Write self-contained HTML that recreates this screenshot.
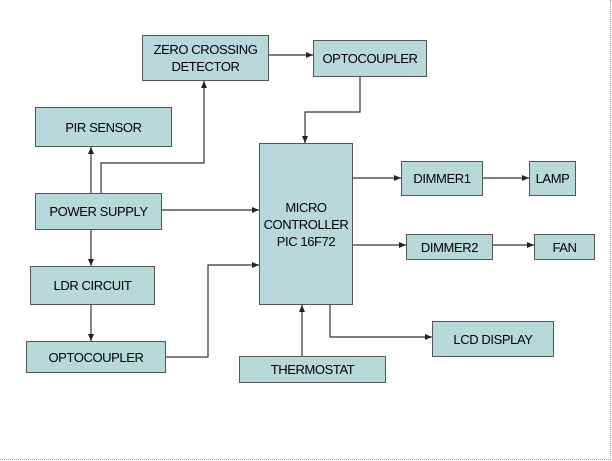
<!DOCTYPE html>
<html><head><style>
body{margin:0;background:#fff}
.b{position:absolute;background:#b7d9da;border:1px solid #555;box-sizing:border-box;display:flex;align-items:center;justify-content:center;text-align:center;font:13px "Liberation Sans",sans-serif;letter-spacing:-0.4px;color:#000;line-height:17px}
</style></head><body>
<div style="position:relative;width:612px;height:461px;overflow:hidden">
<div style="position:absolute;left:0;top:0;width:610px;height:459px;border-right:1px dotted #999;border-bottom:1px dotted #999"></div>
<svg width="612" height="461" style="position:absolute;left:0;top:0">
<defs><marker id="a" markerWidth="8" markerHeight="8" refX="7" refY="4" orient="auto" markerUnits="userSpaceOnUse"><path d="M0,1 L7,4 L0,7z" fill="#222"/></marker></defs>
<g stroke="#333" stroke-width="1.2" fill="none" marker-end="url(#a)">
<path d="M269,55 H313"/>
<path d="M360,77 V112 H305 V143"/>
<path d="M91,193 V147"/>
<path d="M101,193 V163 H204 V81"/>
<path d="M162,210 H259"/>
<path d="M91,230 V266"/>
<path d="M91,305 V341"/>
<path d="M166,357 H208 V265 H259"/>
<path d="M302,356 V305"/>
<path d="M353,178 H401"/>
<path d="M483,178 H529"/>
<path d="M353,245 H406"/>
<path d="M493,245 H534"/>
<path d="M330,305 V337 H432"/>
</g></svg>
<div class="b" style="left:142px;top:35px;width:127px;height:46px">ZERO CROSSING<br>DETECTOR</div>
<div class="b" style="left:313px;top:40px;width:114px;height:37px">OPTOCOUPLER</div>
<div class="b" style="left:35px;top:107px;width:137px;height:40px">PIR SENSOR</div>
<div class="b" style="left:35px;top:193px;width:127px;height:37px">POWER SUPPLY</div>
<div class="b" style="left:30px;top:266px;width:125px;height:39px">LDR CIRCUIT</div>
<div class="b" style="left:26px;top:341px;width:140px;height:32px">OPTOCOUPLER</div>
<div class="b" style="left:259px;top:143px;width:94px;height:162px">MICRO<br>CONTROLLER<br>PIC 16F72</div>
<div class="b" style="left:401px;top:161px;width:82px;height:35px">DIMMER1</div>
<div class="b" style="left:529px;top:161px;width:47px;height:35px">LAMP</div>
<div class="b" style="left:406px;top:234px;width:87px;height:26px">DIMMER2</div>
<div class="b" style="left:534px;top:234px;width:61px;height:26px">FAN</div>
<div class="b" style="left:432px;top:321px;width:122px;height:36px">LCD DISPLAY</div>
<div class="b" style="left:239px;top:356px;width:147px;height:27px">THERMOSTAT</div>
</div>
</body></html>
